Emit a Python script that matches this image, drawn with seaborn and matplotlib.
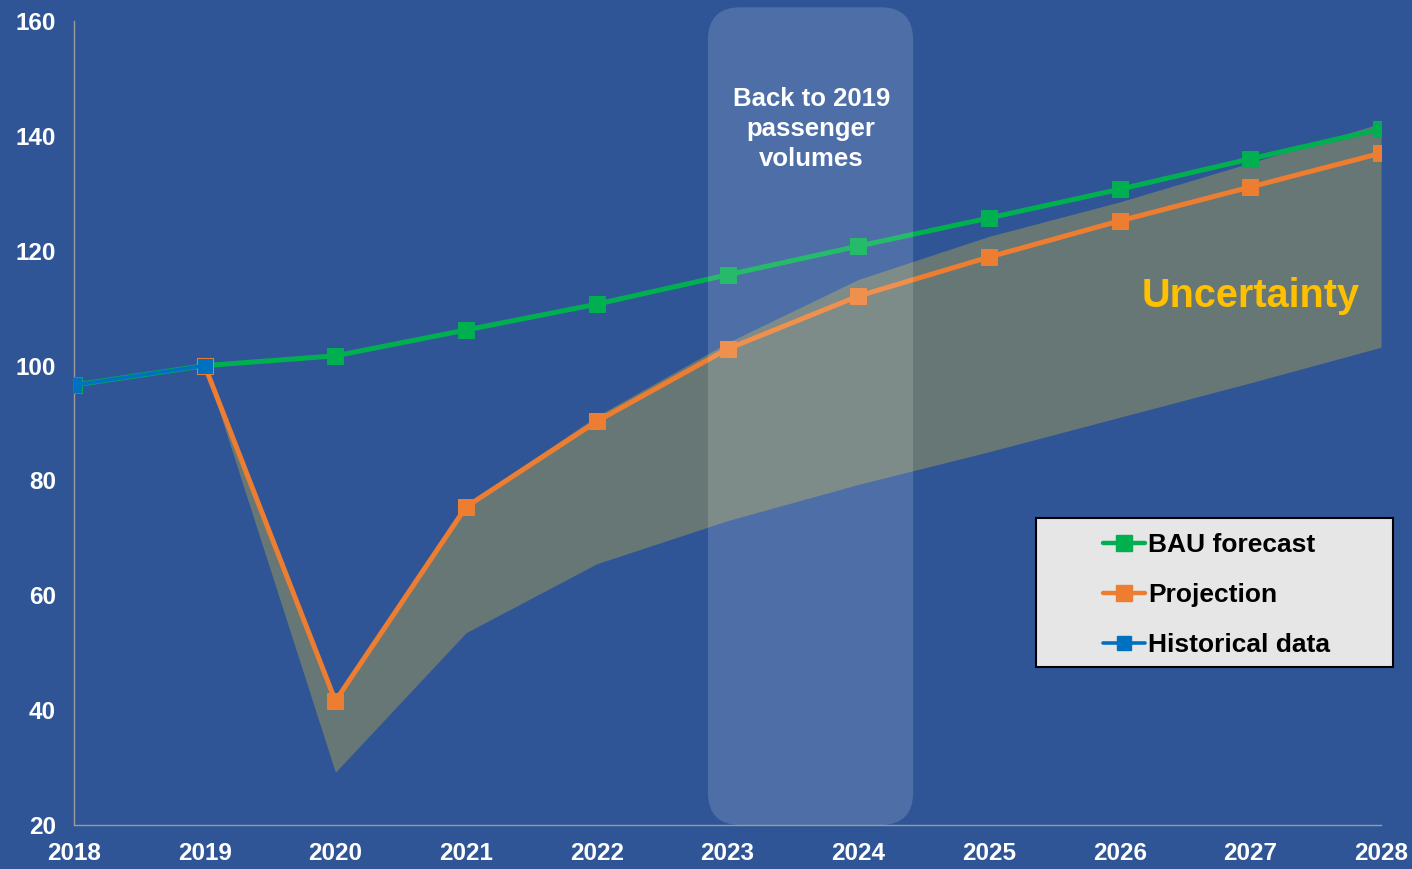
import numpy as np
import pandas as pd
import matplotlib.pyplot as plt
import seaborn as sns
from matplotlib.patches import FancyBboxPatch, Rectangle
from matplotlib.lines import Line2D

years = [2018, 2019, 2020, 2021, 2022, 2023, 2024, 2025, 2026, 2027, 2028]
bau = [96.6, 100, 101.7, 106.2, 110.7, 115.8, 120.8, 125.7, 130.7, 136.0, 141.2]
proj_years = [2019, 2020, 2021, 2022, 2023, 2024, 2025, 2026, 2027, 2028]
projection = [100, 41.6, 75.4, 90.3, 102.9, 112.1, 118.9, 125.2, 131.1, 137.0]
hist_years = [2018, 2019]
historical = [96.6, 100]
band_years = [2019, 2020, 2021, 2022, 2023, 2024, 2025, 2026, 2027, 2028]
band_low = [100, 29.2, 53.5, 65.5, 73.0, 79.3, 85.0, 91.0, 97.0, 103.2]
band_high = [100, 41.6, 75.8, 91.2, 104.0, 115.0, 122.5, 128.5, 135.3, 142.2]

bg = "#2F5597"
green = "#00B050"
orange = "#ED7D31"
blue = "#0070C0"

sns.set_style("white")
plt.rcParams["font.family"] = ["Liberation Sans", "DejaVu Sans"]
plt.rcParams["font.weight"] = "bold"

fig = plt.figure(figsize=(14.12, 8.69), dpi=100, facecolor=bg)
ax = fig.add_axes([0.0524, 0.0506, 0.9257, 0.9252], facecolor=bg)

# uncertainty band
ax.fill_between(band_years, band_low, band_high, color="#CDB43A", alpha=0.36, lw=0, zorder=1)

df_bau = pd.DataFrame({"year": years, "value": bau})
df_proj = pd.DataFrame({"year": proj_years, "value": projection})
df_hist = pd.DataFrame({"year": hist_years, "value": historical})

sns.lineplot(data=df_bau, x="year", y="value", ax=ax, color=green, lw=3.6,
             marker="s", markersize=11, markeredgecolor=green, zorder=3)
sns.lineplot(data=df_proj, x="year", y="value", ax=ax, color=orange, lw=3.6,
             marker="s", markersize=11, markeredgecolor=orange, zorder=4)
sns.lineplot(data=df_hist, x="year", y="value", ax=ax, color=blue, lw=2.6,
             marker="s", markersize=10, markeredgecolor=blue, zorder=5)

# highlighted period
box = FancyBboxPatch((2022.85, 20), 1.57, 142.4,
                     boxstyle="round,pad=0,rounding_size=0.25",
                     mutation_aspect=22.76, facecolor="white", alpha=0.15,
                     lw=0, zorder=6, clip_on=False)
ax.add_patch(box)
ax.text(2023.64, 141.2, "Back to 2019\npassenger\nvolumes", ha="center", va="center",
        color="white", fontsize=18.5, fontweight="bold", linespacing=1.3, zorder=7)

ax.text(2027.0, 112.2, "Uncertainty", ha="center", va="center",
        color="#FFC000", fontsize=28.5, fontweight="bold", zorder=7)

ax.set_xlim(2018, 2028)
ax.set_ylim(20, 160)
ax.set_xticks(years)
ax.set_yticks(range(20, 161, 20))
ax.set_xlabel("")
ax.set_ylabel("")
for s in ["top", "right"]:
    ax.spines[s].set_visible(False)
for s in ["left", "bottom"]:
    ax.spines[s].set_color("#9A9A9A")
    ax.spines[s].set_linewidth(1)
ax.tick_params(axis="both", colors="#9A9A9A", length=5, width=1, direction="out",
               labelcolor="white", labelsize=17.5)
ax.tick_params(axis="x", pad=7)
ax.tick_params(axis="y", pad=8)
for lbl in ax.get_xticklabels() + ax.get_yticklabels():
    lbl.set_fontweight("bold")

# legend
frame = Rectangle((1036 / 1412, 1 - 667 / 869), 357 / 1412, 149 / 869,
                  transform=fig.transFigure, facecolor="#E6E6E6", edgecolor="black",
                  lw=1.5, zorder=8)
fig.patches.append(frame)
handles = [
    Line2D([], [], color=green, lw=3.2, marker="s", markersize=11),
    Line2D([], [], color=orange, lw=3.2, marker="s", markersize=11),
    Line2D([], [], color=blue, lw=2.6, marker="s", markersize=10),
]
leg = fig.legend(handles, ["BAU forecast", "Projection", "Historical data"],
                 loc="upper left", bbox_to_anchor=(1090 / 1412, 1 - 520 / 869),
                 frameon=False, fontsize=19, handlelength=1.6, handletextpad=0.1,
                 labelspacing=0.98, borderpad=0)
for t in leg.get_texts():
    t.set_fontweight("bold")
    t.set_color("black")
leg.set_zorder(9)

fig.savefig("out.png", dpi=100, facecolor=bg)
